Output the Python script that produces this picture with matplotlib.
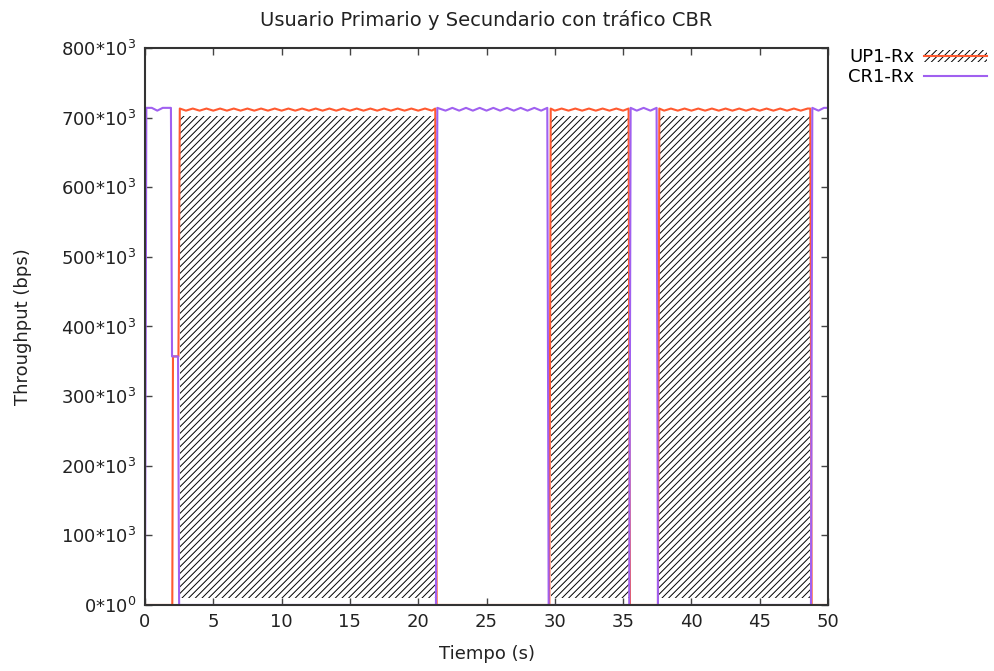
import matplotlib
matplotlib.use("Agg")
import matplotlib.pyplot as plt
from matplotlib.patches import Patch
from matplotlib.lines import Line2D
from matplotlib.ticker import FuncFormatter, MultipleLocator

# UP1-Rx (primary user), time in s, throughput in kbps
up1_t = [0.0, 2.0, 2.05, 2.45, 2.55,
         3.0, 3.5, 4.0, 4.5, 5.0, 5.5, 6.0, 6.5, 7.0, 7.5, 8.0, 8.5, 9.0, 9.5,
         10.0, 10.5, 11.0, 11.5, 12.0, 12.5, 13.0, 13.5, 14.0, 14.5, 15.0, 15.5,
         16.0, 16.5, 17.0, 17.5, 18.0, 18.5, 19.0, 19.5, 20.0, 20.5, 21.0, 21.25,
         21.35, 29.6, 29.7,
         30.0, 30.5, 31.0, 31.5, 32.0, 32.5, 33.0, 33.5, 34.0, 34.5, 35.0, 35.4,
         35.5, 37.55, 37.65,
         38.0, 38.5, 39.0, 39.5, 40.0, 40.5, 41.0, 41.5, 42.0, 42.5, 43.0, 43.5,
         44.0, 44.5, 45.0, 45.5, 46.0, 46.5, 47.0, 47.5, 48.0, 48.5, 48.7,
         48.8, 50.0]
up1_v = [0, 0, 357, 357, 713,
         710, 713, 710, 713, 710, 713, 710, 713, 710, 713, 710, 713, 710, 713,
         710, 713, 710, 713, 710, 713, 710, 713, 710, 713, 710, 713,
         710, 713, 710, 713, 710, 713, 710, 713, 710, 713, 710, 713,
         0, 0, 713,
         710, 713, 710, 713, 710, 713, 710, 713, 710, 713, 710, 713,
         0, 0, 713,
         710, 713, 710, 713, 710, 713, 710, 713, 710, 713, 710, 713,
         710, 713, 710, 713, 710, 713, 710, 713, 710, 713, 713,
         0, 0]

# CR1-Rx (cognitive radio user)
cr1_t = [0.0, 0.1, 0.5, 0.9, 1.3, 1.9, 1.98, 2.42, 2.5,
         21.3, 21.4, 22.0, 22.5, 23.0, 23.5, 24.0, 24.5, 25.0, 25.5, 26.0,
         26.5, 27.0, 27.5, 28.0, 28.5, 29.0, 29.45, 29.55,
         35.45, 35.55, 36.0, 36.5, 37.0, 37.45, 37.55,
         48.75, 48.85, 49.3, 49.7, 50.0]
cr1_v = [0, 714, 714, 710, 714, 714, 357, 357, 0,
         0, 714, 710, 714, 710, 714, 710, 714, 710, 714, 710,
         714, 710, 714, 710, 714, 710, 714, 0,
         0, 714, 710, 714, 710, 714, 0,
         0, 714, 710, 714, 714]

up1_color = "#ff5a30"
cr1_color = "#a060f0"

plt.rcParams['font.family'] = ['DejaVu Sans']
plt.rcParams['mathtext.fontset'] = 'dejavusans'
plt.rcParams['hatch.linewidth'] = 0.7
plt.rcParams['hatch.color'] = 'black'

fig = plt.figure(figsize=(9.95, 6.71), dpi=100)
ax = fig.add_axes([0.1457, 0.0984, 0.6865, 0.8301])

up1_bps = [v * 1000 for v in up1_v]
cr1_bps = [v * 1000 for v in cr1_v]

# gnuplot pattern fill sits a little inside the curve
fill_top = [min(v, 703) * 1000 for v in up1_v]
fill_on = [v > 700 for v in up1_v]
ax.fill_between(up1_t, 10e3, fill_top, where=fill_on, facecolor='none',
                edgecolor='black', hatch='/////', linewidth=0)
ax.plot(up1_t, up1_bps, color=up1_color, lw=1.5)
ax.plot(cr1_t, cr1_bps, color=cr1_color, lw=1.5)

ax.set_xlim(0, 50)
ax.set_ylim(0, 800e3)
ax.xaxis.set_major_locator(MultipleLocator(5))
ax.yaxis.set_major_locator(MultipleLocator(100e3))

def ylab(v, pos):
    if v == 0:
        return r'0*10$^{0}$'
    return r'%d*10$^{3}$' % int(round(v / 1000))

ax.yaxis.set_major_formatter(FuncFormatter(ylab))
ax.tick_params(direction='in', top=True, right=True, length=5, width=1,
               labelsize=13, color='#444444', pad=6, labelcolor='#222222')
for s in ax.spines.values():
    s.set_linewidth(1.5)
    s.set_color('#333333')

ax.set_title('Usuario Primario y Secundario con tráfico CBR', fontsize=14,
             pad=16, color='#222222')
ax.set_xlabel('Tiempo (s)', fontsize=13, labelpad=10, color='#222222')
ax.set_ylabel('Throughput (bps)', fontsize=13, labelpad=21, color='#222222')

hatch_patch = Patch(facecolor='none', edgecolor='black', hatch='/////', linewidth=0)
handles = [(hatch_patch, Line2D([], [], color=up1_color, lw=1.5)),
           Line2D([], [], color=cr1_color, lw=1.5)]
fig.legend(handles, ['UP1-Rx', 'CR1-Rx'], loc='upper right',
           bbox_to_anchor=(1.008, 0.952), markerfirst=False, frameon=False,
           fontsize=13, handlelength=3.5, handletextpad=0.5, labelspacing=0.1)

fig.savefig('out.png', dpi=100)
